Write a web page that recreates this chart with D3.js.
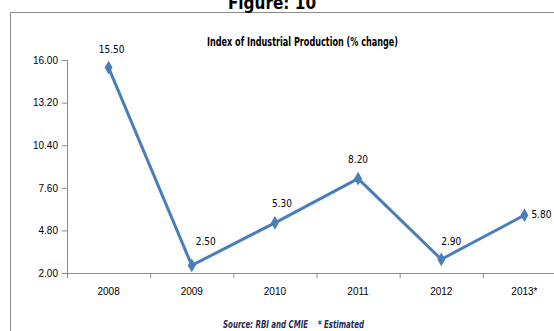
<!DOCTYPE html>
<html><head><meta charset="utf-8">
<script src="https://cdn.jsdelivr.net/npm/d3@7"></script>
<style>
body{margin:0;background:#fff;}
svg{display:block;font-family:"Liberation Sans Narrow","DejaVu Sans Condensed","Open Sans",sans-serif;}
</style></head><body>
<svg id="c" width="554" height="331"></svg>
<script>
const categories = ["2008","2009","2010","2011","2012","2013*"];
const values = [15.5, 2.5, 5.3, 8.2, 2.9, 5.8];
const valueLabels = ["15.50","2.50","5.30","8.20","2.90","5.80"];
const yTicks = [2.0, 4.8, 7.6, 10.4, 13.2, 16.0];

(function(){
const svg = d3.select("#c");
const pLeft = 67, pRight = 566, pTop = 60, pBottom = 273;

// outer frame
svg.append("rect").attr("x",10.5).attr("y",12.5).attr("width",600).attr("height",400)
  .attr("fill","none").attr("stroke","#8c8c8c").attr("stroke-width",1);
svg.append("text").attr("x",272).attr("y",9).attr("text-anchor","middle")
  .attr("font-size",17).attr("font-weight","bold").text("Figure: 10");

const x = d3.scaleBand().domain(categories).range([pLeft,pRight]);
const y = d3.scaleLinear().domain([2,16]).range([pBottom,pTop]);

// y axis
const ya = svg.append("g").attr("transform",`translate(${pLeft},0)`)
  .call(d3.axisLeft(y).tickValues(yTicks).tickFormat(d3.format(".2f")).tickSize(5).tickPadding(4));
ya.select(".domain").attr("stroke","#8c8c8c");
ya.selectAll(".tick line").attr("stroke","#8c8c8c");
ya.selectAll("text").attr("font-size",10).attr("fill","#000");

// x axis
const xa = svg.append("g").attr("transform",`translate(0,${pBottom})`)
  .call(d3.axisBottom(x).tickSize(0).tickPadding(15));
xa.select(".domain").attr("stroke","#8c8c8c").attr("d",`M${pLeft-5},0.5H${pRight}`);
xa.selectAll("text").attr("font-size",10).attr("fill","#000");
xa.selectAll(".tick line").remove();
const bounds = categories.map(c=>x(c)).concat([x(categories[categories.length-1])+x.bandwidth()]);
svg.append("g").selectAll("line").data(bounds).join("line")
  .attr("x1",d=>d+0.5).attr("x2",d=>d+0.5).attr("y1",pBottom).attr("y2",pBottom+5)
  .attr("stroke","#8c8c8c");

// title
svg.append("text").attr("x",207).attr("y",46)
  .attr("font-size",11.5).attr("font-weight","bold")
  .attr("textLength",191).attr("lengthAdjust","spacingAndGlyphs")
  .text("Index of Industrial Production (% change)");

// line
const cx = (d,i)=>x(categories[i])+x.bandwidth()/2;
const line = d3.line().x((d,i)=>cx(d,i)).y(d=>y(d));
svg.append("path").datum(values).attr("d",line).attr("fill","none")
  .attr("stroke","#4a7ebb").attr("stroke-width",3).attr("stroke-linejoin","round");
svg.append("g").selectAll("path").data(values).join("path")
  .attr("d",d3.symbol(d3.symbolDiamond,55))
  .attr("transform",(d,i)=>`translate(${cx(d,i)},${y(d)})`)
  .attr("fill","#4a7ebb");

// value labels
const offs = [[3,-15],[14,-20],[7,-16],[0,-16],[10,-14],[17,3]];
svg.append("g").selectAll("text").data(values).join("text")
  .attr("x",(d,i)=>cx(d,i)+offs[i][0]).attr("y",(d,i)=>y(d)+offs[i][1])
  .attr("text-anchor","middle").attr("font-size",10).attr("fill","#000")
  .text((d,i)=>valueLabels[i]);

// source
svg.append("text").attr("x",223).attr("y",328)
  .attr("font-size",10).attr("font-weight","bold").attr("font-style","italic")
  .attr("fill","#1f2a5a").attr("xml:space","preserve")
  .attr("textLength",141).attr("lengthAdjust","spacingAndGlyphs")
  .text("Source: RBI and CMIE    * Estimated");
})();
</script>
</body></html>
